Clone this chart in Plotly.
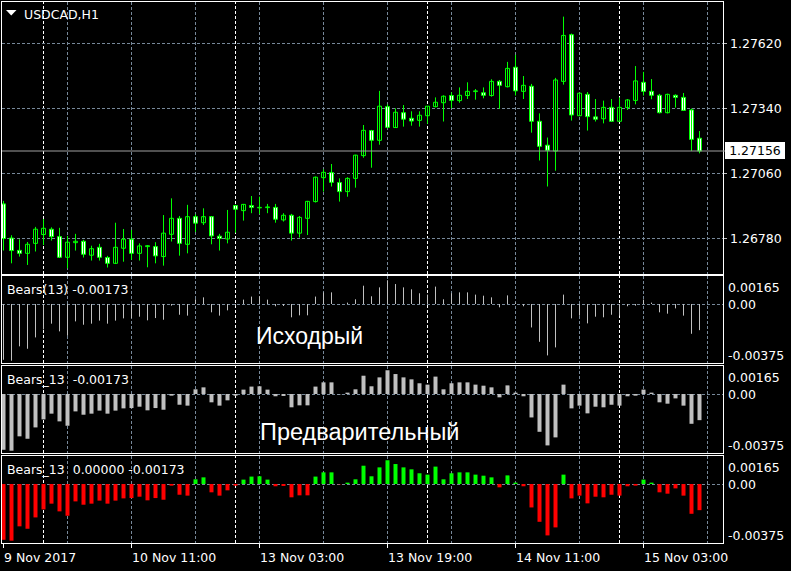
import plotly.graph_objects as go

W, H = 791, 571

symbol_title = "USDCAD,H1"
tick_labels = ["9 Nov 2017", "10 Nov 11:00", "13 Nov 03:00", "13 Nov 19:00", "14 Nov 11:00", "15 Nov 03:00"]
tick_bars = [0, 16, 32, 48, 64, 80]
day_sep_bars = [5, 29, 53, 77]
grid_bars = [8, 16, 24, 32, 40, 48, 56, 64, 72, 80, 88]
price_ticks = [1.26780, 1.27060, 1.27340, 1.27620]
ind_labels = ["0.00165", "0.00", "-0.00375"]
legend_texts = ["Bears(13) -0.00173", "Bears_13  -0.00173", "Bears_13  0.00000 -0.00173"]
big_texts = ["Исходрый", "Предварительный"]

opens = [
    1.26928, 1.26781, 1.26728, 1.26715, 1.26758, 1.26796, 1.26819, 1.26787, 1.26698, 1.26761,
    1.26767, 1.26707, 1.26741, 1.26697, 1.26672, 1.26737, 1.26776, 1.26715, 1.26744, 1.26744,
    1.26701, 1.26797, 1.26866, 1.26754, 1.26873, 1.26847, 1.26873, 1.26789, 1.26777, 1.26921,
    1.26899, 1.26921, 1.26911, 1.26912, 1.26913, 1.26859, 1.26879, 1.26802, 1.26866, 1.26938,
    1.27041, 1.27063, 1.27020, 1.26981, 1.27038, 1.27136, 1.27244, 1.27202, 1.27347, 1.27257,
    1.27321, 1.27297, 1.27288, 1.27308, 1.27347, 1.27364, 1.27395, 1.27373, 1.27395, 1.27412,
    1.27407, 1.27395, 1.27456, 1.27433, 1.27517, 1.27413, 1.27435, 1.27284, 1.27181, 1.27156,
    1.27456, 1.27657, 1.27308, 1.27400, 1.27303, 1.27295, 1.27344, 1.27284, 1.27343, 1.27374,
    1.27452, 1.27413, 1.27396, 1.27321, 1.27396, 1.27387, 1.27333, 1.27211]
highs = [
    1.26941, 1.26793, 1.26776, 1.26764, 1.26829, 1.26863, 1.26827, 1.26825, 1.26790, 1.26799,
    1.26773, 1.26748, 1.26756, 1.26704, 1.26847, 1.26820, 1.26816, 1.26758, 1.26751, 1.26763,
    1.26880, 1.26952, 1.26876, 1.26924, 1.26883, 1.26909, 1.26876, 1.26799, 1.26902, 1.26924,
    1.26928, 1.26962, 1.26959, 1.26928, 1.26928, 1.26888, 1.26885, 1.26876, 1.26941, 1.27046,
    1.27077, 1.27100, 1.27038, 1.27043, 1.27140, 1.27268, 1.27247, 1.27415, 1.27357, 1.27340,
    1.27354, 1.27327, 1.27327, 1.27350, 1.27387, 1.27396, 1.27409, 1.27430, 1.27452, 1.27423,
    1.27430, 1.27465, 1.27462, 1.27540, 1.27570, 1.27479, 1.27445, 1.27318, 1.27214, 1.27471,
    1.27735, 1.27662, 1.27407, 1.27410, 1.27380, 1.27373, 1.27380, 1.27387, 1.27380, 1.27522,
    1.27497, 1.27466, 1.27402, 1.27403, 1.27400, 1.27406, 1.27339, 1.27242]
lows = [
    1.26727, 1.26672, 1.26701, 1.26665, 1.26723, 1.26751, 1.26770, 1.26695, 1.26651, 1.26727,
    1.26697, 1.26684, 1.26684, 1.26654, 1.26669, 1.26679, 1.26687, 1.26684, 1.26655, 1.26672,
    1.26662, 1.26766, 1.26705, 1.26715, 1.26807, 1.26837, 1.26754, 1.26727, 1.26758, 1.26804,
    1.26856, 1.26888, 1.26885, 1.26888, 1.26847, 1.26852, 1.26770, 1.26783, 1.26794, 1.26934,
    1.26981, 1.27003, 1.26938, 1.26959, 1.26998, 1.27127, 1.27084, 1.27183, 1.27254, 1.27255,
    1.27261, 1.27265, 1.27261, 1.27273, 1.27344, 1.27283, 1.27340, 1.27364, 1.27380, 1.27377,
    1.27383, 1.27390, 1.27337, 1.27430, 1.27395, 1.27380, 1.27235, 1.27115, 1.27003, 1.27071,
    1.27442, 1.27287, 1.27308, 1.27244, 1.27283, 1.27275, 1.27284, 1.27284, 1.27333, 1.27357,
    1.27395, 1.27379, 1.27318, 1.27318, 1.27343, 1.27331, 1.27156, 1.27146]
closes = [
    1.26779, 1.26727, 1.26715, 1.26754, 1.26819, 1.26823, 1.26787, 1.26698, 1.26763, 1.26767,
    1.26711, 1.26735, 1.26698, 1.26672, 1.26741, 1.26776, 1.26715, 1.26747, 1.26748, 1.26704,
    1.26802, 1.26866, 1.26758, 1.26873, 1.26845, 1.26873, 1.26790, 1.26779, 1.26806, 1.26905,
    1.26926, 1.26913, 1.26913, 1.26915, 1.26862, 1.26879, 1.26802, 1.26870, 1.26939, 1.27043,
    1.27064, 1.27021, 1.26981, 1.27038, 1.27138, 1.27245, 1.27202, 1.27349, 1.27258, 1.27323,
    1.27293, 1.27285, 1.27310, 1.27349, 1.27366, 1.27392, 1.27374, 1.27396, 1.27413, 1.27415,
    1.27396, 1.27456, 1.27439, 1.27512, 1.27415, 1.27439, 1.27284, 1.27176, 1.27159, 1.27462,
    1.27654, 1.27311, 1.27405, 1.27304, 1.27293, 1.27344, 1.27284, 1.27344, 1.27376, 1.27458,
    1.27413, 1.27396, 1.27321, 1.27400, 1.27387, 1.27331, 1.27206, 1.27156]
bears = [
    -0.00369, -0.00375, -0.00280, -0.00296, -0.00221, -0.00168, -0.00130, -0.00181, -0.00210, -0.00115,
    -0.00137, -0.00130, -0.00110, -0.00130, -0.00110, -0.00095, -0.00093, -0.00084, -0.00108, -0.00093,
    -0.00104, -0.00011, -0.00071, -0.00077, 0.00031, 0.00044, -0.00055, -0.00077, -0.00042, -0.00011,
    0.00029, 0.00049, 0.00051, 0.00029, -0.00015, -0.00013, -0.00088, -0.00075, -0.00075, 0.00049,
    0.00077, 0.00077, -0.00002, 0.00009, 0.00031, 0.00121, 0.00051, 0.00110, 0.00157, 0.00132,
    0.00110, 0.00097, 0.00071, 0.00062, 0.00115, 0.00031, 0.00071, 0.00077, 0.00077, 0.00062,
    0.00055, 0.00044, -0.00022, 0.00057, 0.00009, -0.00015, -0.00155, -0.00250, -0.00340, -0.00287,
    0.00062, -0.00095, -0.00077, -0.00128, -0.00084, -0.00088, -0.00071, -0.00077, -0.00015, -0.00011,
    0.00029, 0.00009, -0.00055, -0.00064, -0.00029, -0.00077, -0.00197, -0.00173]

LIME = "#00FF00"
RED = "#FF0000"
SILVER = "#C0C0C0"
GRID = "#778899"
FONT = "DejaVu Sans"
FS = 12.5


def px(x):
    return x / W


def py(y):
    return 1 - y / H


idx = list(range(len(opens)))
fig = go.Figure()

# --- main panel: candles ---
wx, wy = [], []
for i in idx:
    wx += [i, i, None]
    wy += [lows[i], highs[i], None]
fig.add_trace(go.Scatter(x=wx, y=wy, mode="lines", line=dict(color=LIME, width=1),
                         xaxis="x", yaxis="y", hoverinfo="skip", showlegend=False))
body_base = [min(o, c) for o, c in zip(opens, closes)]
body_h = [max(abs(c - o), 0.00001) for o, c in zip(opens, closes)]
body_fill = ["#000000" if c > o else "#FFFFFF" for o, c in zip(opens, closes)]
fig.add_trace(go.Bar(x=idx, y=body_h, base=body_base, width=0.5,
                     marker=dict(color=body_fill, line=dict(color=LIME, width=1)),
                     xaxis="x", yaxis="y", showlegend=False))

# --- panel 1: lines ---
lx, ly = [], []
for i in idx:
    lx += [i, i, None]
    ly += [0, bears[i], None]
fig.add_trace(go.Scatter(x=lx, y=ly, mode="lines", line=dict(color=SILVER, width=1),
                         xaxis="x2", yaxis="y2", hoverinfo="skip", showlegend=False))
# --- panel 2: grey histogram ---
fig.add_trace(go.Bar(x=idx, y=bears, width=0.5, marker=dict(color=SILVER, line=dict(width=0)),
                     xaxis="x3", yaxis="y3", showlegend=False))
# --- panel 3: coloured histogram ---
fig.add_trace(go.Bar(x=idx, y=bears, width=0.5,
                     marker=dict(color=[LIME if v > 0 else RED for v in bears], line=dict(width=0)),
                     xaxis="x4", yaxis="y4", showlegend=False))

xr = [-0.1875, 89.9375]
xdom = [px(2), px(723)]
main_dom = [py(274), py(2)]
pdoms = [[py(363), py(276)], [py(453), py(366)], [py(543), py(456)]]
ind_range = [-0.003902, 0.001852]

frame = dict(showline=True, linecolor="#FFFFFF", linewidth=1, mirror=True)
xcommon = dict(range=xr, domain=xdom, tickmode="array", tickvals=grid_bars, showticklabels=False,
               ticks="", showgrid=True, gridcolor=GRID, griddash="3px,2px", gridwidth=1,
               zeroline=False, fixedrange=True, **frame)

layout = dict(
    width=W, height=H, margin=dict(l=0, r=0, t=0, b=0),
    paper_bgcolor="#000000", plot_bgcolor="#000000",
    showlegend=False, barmode="overlay", hovermode=False,
    xaxis=dict(anchor="y", **xcommon),
    xaxis2=dict(anchor="y2", matches="x", **xcommon),
    xaxis3=dict(anchor="y3", matches="x", **xcommon),
    xaxis4=dict(anchor="y4", matches="x", **xcommon),
    yaxis=dict(anchor="x", domain=main_dom, range=[1.26626, 1.27798], side="right",
               tickmode="array", tickvals=price_ticks, showticklabels=False,
               ticks="outside", ticklen=3, tickcolor=SILVER, fixedrange=True,
               showgrid=True, gridcolor=GRID, griddash="3px,2px", zeroline=False, **frame),
)
for n, dom in zip([2, 3, 4], pdoms):
    layout[f"yaxis{n}"] = dict(anchor=f"x{n}", domain=dom, range=ind_range, side="right",
                               tickmode="array", tickvals=[0], showticklabels=False, ticks="",
                               showgrid=True, gridcolor=GRID, griddash="3px,2px", fixedrange=True,
                               zeroline=False, **frame)
fig.update_layout(**layout)

shapes = []
# day separators
for xn, yn in [("x", "y"), ("x2", "y2"), ("x3", "y3"), ("x4", "y4")]:
    for b in day_sep_bars:
        shapes.append(dict(type="line", xref=xn, yref=f"{yn} domain", x0=b, x1=b, y0=0, y1=1,
                           line=dict(color="#FFFFFF", width=1, dash="3px,2px"), layer="below"))
# bid line
shapes.append(dict(type="line", xref="x domain", yref="y", x0=0, x1=1.003, y0=closes[-1], y1=closes[-1],
                   line=dict(color="#A0A0A0", width=1)))
# bottom tick marks
for b in tick_bars:
    shapes.append(dict(type="line", xref="x4", yref="paper", x0=b, x1=b, y0=py(543), y1=py(548),
                       line=dict(color="#FFFFFF", width=1)))
# title triangle
shapes.append(dict(type="path", xref="paper", yref="paper",
                   path=f"M {px(6)} {py(10)} L {px(16.5)} {py(10)} L {px(11.25)} {py(15.5)} Z",
                   fillcolor="#FFFFFF", line=dict(width=0)))

ann = []
def txt(text, x, y, xref="paper", yref="paper", size=FS, color="#FFFFFF", family=FONT, **kw):
    d = dict(text=text, x=x, y=y, xref=xref, yref=yref, xanchor="left", yanchor="middle",
             showarrow=False, font=dict(family=family, size=size, color=color),
             borderpad=0, borderwidth=0)
    d.update(kw)
    ann.append(d)

txt(symbol_title, px(24), py(14))
for t, yc in zip(legend_texts, [289, 379, 469]):
    txt(t, px(7), py(yc))
txt(big_texts[0], px(256), py(336), size=23, family="Liberation Sans")
txt(big_texts[1], px(260), py(432), size=23.5, family="Liberation Sans")
for v in price_ticks:
    txt(f"{v:.5f}", px(730), v, yref="y")
for off in [0, 90, 180]:
    for t, yc in zip(ind_labels, [287.3, 304.3, 355]):
        txt(t, px(727.5), py(yc + off))
for b, t in zip(tick_bars, tick_labels):
    txt(t, b, py(557), xref="x4")
# current price box
txt(f"{closes[-1]:.5f}", px(725), closes[-1], yref="y", color="#000000",
    bgcolor="#FFFFFF", borderpad=2, width=56, height=13, align="center")

fig.update_layout(shapes=shapes, annotations=ann)
fig.write_html("out.html", config={"displayModeBar": False, "staticPlot": True},
               post_script="document.body.style.margin='0';document.body.style.padding='0';"
                           "document.body.style.overflow='hidden';")
